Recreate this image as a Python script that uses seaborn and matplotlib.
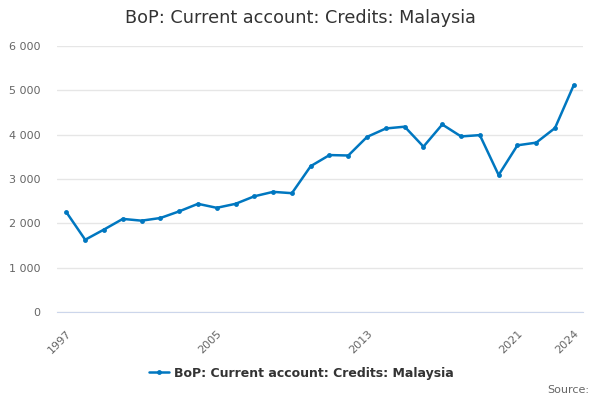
import matplotlib
matplotlib.use("Agg")
import matplotlib.pyplot as plt
import seaborn as sns
import pandas as pd

years = list(range(1997, 2025))
values = [2250, 1630, 1860, 2100, 2060, 2120, 2270, 2440, 2350, 2440, 2610, 2710, 2680,
          3290, 3540, 3530, 3950, 4140, 4180, 3730, 4230, 3960, 3990, 3090, 3760, 3820,
          4150, 5120]
series_name = "BoP: Current account: Credits: Malaysia"
y_ticks = [0, 1000, 2000, 3000, 4000, 5000, 6000]
y_tick_labels = ["0", "1 000", "2 000", "3 000", "4 000", "5 000", "6 000"]
x_label_years = [1997, 2005, 2013, 2021, 2024]
x_tick_years = list(range(1997, 2022, 2)) + [2024]

df = pd.DataFrame({"year": years, "value": values, "series": series_name})

sns.set_style("white")
plt.rcParams['font.family'] = ['DejaVu Sans']

fig = plt.figure(figsize=(6, 4), dpi=100)
ax = fig.add_axes([0.095, 0.22, 0.877, 0.665])

color = "#0077c0"
sns.lineplot(data=df, x="year", y="value", hue="series", palette=[color], ax=ax,
             marker="o", markersize=3.5, markeredgewidth=0, linewidth=1.8)

ax.set_xlim(1996.5, 2024.5)
ax.set_ylim(0, 6000)
ax.set_yticks(y_ticks)
ax.set_yticklabels(y_tick_labels, fontsize=8, color="#666666")
ax.set_xticks(x_tick_years, minor=False)
ax.set_xticklabels([str(y) if y in x_label_years else "" for y in x_tick_years],
                   rotation=45, ha="right", rotation_mode="anchor", fontsize=8, color="#666666")
ax.tick_params(axis="x", length=8, color="#ccd6eb", width=1, pad=4)
ax.tick_params(axis="y", length=0, pad=12)
ax.grid(axis="y", color="#e6e6e6", linewidth=1)
ax.set_axisbelow(True)
for s in ["top", "right", "left"]:
    ax.spines[s].set_visible(False)
ax.spines["bottom"].set_color("#ccd6eb")
ax.set_xlabel("")
ax.set_ylabel("")

ax.get_legend().remove()
handles, labels = ax.get_legend_handles_labels()
leg = fig.legend(handles, labels, loc="center", bbox_to_anchor=(0.502, 0.067), frameon=False,
                 fontsize=9, handlelength=1.6, handletextpad=0.4)
for t in leg.get_texts():
    t.set_fontweight("bold")
    t.set_color("#333333")

fig.text(0.5, 0.955, "BoP: Current account: Credits: Malaysia", ha="center", va="center",
         fontsize=12.7, color="#333333")
fig.text(0.982, 0.025, "Source:", ha="right", va="center", fontsize=8, color="#666666")

fig.savefig("out.png", dpi=100)
